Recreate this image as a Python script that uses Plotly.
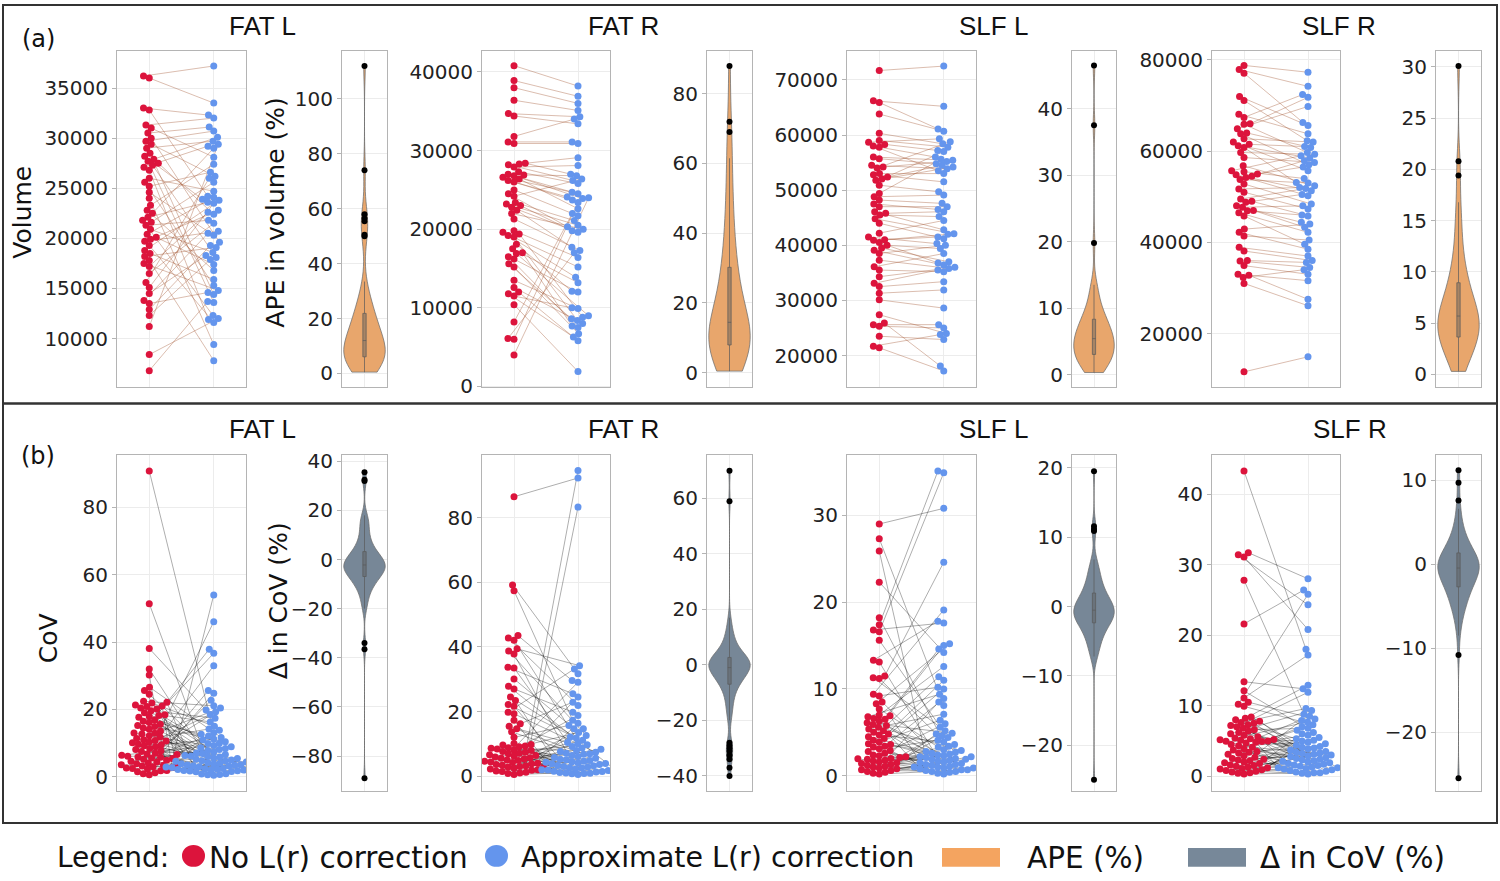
import numpy as np
import plotly.graph_objects as go

W, H = 1500, 881

# ---- (a) volume, paired: no correction vs approximate correction ----
fatl_vol_none = [36200, 36000, 33000, 32800, 31300, 31000, 30500, 30000, 29700, 29400,
                 29000, 28500, 28200, 27900, 27700, 27500, 27300, 27100, 26800, 26000,
                 25600, 25200, 24600, 24000, 23300, 22800, 22500, 22100, 21800, 21600,
                 21300, 20900, 20400, 20100, 19900, 19700, 19300, 18800, 18500, 18200,
                 17800, 17500, 17200, 16500, 15600, 15100, 14500, 13800, 13500, 12900,
                 12300, 11200, 8400, 6800]
fatl_vol_approx = [37200, 33500, 32300, 24200, 32000, 28100, 31100, 19600, 30700, 26200,
                   29700, 14400, 23900, 30100, 13600, 22400, 18100, 29200, 11900, 24700,
                   15300, 26600, 20300, 9400, 27400, 16800, 29000, 23600, 12300, 25600,
                   21800, 18600, 24100, 17400, 22800, 20700, 11600, 23800, 15900, 19100,
                   7800, 14800, 22600, 21500, 26000, 23500, 18300, 20500, 14600, 19300,
                   17900, 29400, 12000, 13700]

fatr_vol_none = [40800, 38900, 38000, 36400, 34700, 34400, 31800, 31100, 30900, 28400,
                 28300, 28200, 27900, 27300, 27000, 26900, 26800, 26600, 26400, 26200,
                 26000, 25000, 24500, 24200, 23400, 23200, 23000, 22800, 22400, 22000,
                 21300, 19800, 19600, 19400, 19200, 19000, 18100, 17500, 17000, 16900,
                 16500, 16200, 15600, 15200, 13500, 12600, 12000, 11800, 11500, 10400,
                 8200, 6100, 6000, 4000]
fatr_vol_approx = [38200, 36900, 36000, 35100, 34300, 33400, 34000, 31100, 30900, 27000,
                   29100, 26200, 28100, 25800, 24500, 26800, 23900, 24700, 22600, 24100,
                   23700, 21700, 20300, 26400, 21100, 20500, 19800, 19600, 17700, 20000,
                   17300, 16400, 15200, 8800, 13900, 8400, 12100, 13200, 7700, 9000,
                   7500, 12000, 8600, 6700, 9900, 8000, 5800, 6300, 10000, 1900,
                   22000, 17000, 23400, 24000]

slfl_vol_none = [71700, 66200, 65900, 63800, 60300, 59000, 58700, 58300, 58000, 57800,
                 56000, 55700, 54500, 54200, 54000, 53000, 52800, 52400, 52000, 51800,
                 50900, 49400, 48800, 48200, 47500, 47000, 46100, 45800, 45500, 44800,
                 44000, 42200, 41500, 41000, 40900, 40500, 40000, 39500, 39100, 38500,
                 37300, 36100, 35500, 34300, 33100, 32500, 31300, 30100, 27400, 25900,
                 25600, 25300, 23500, 21700, 21400]
slfl_vol_approx = [72500, 65200, 61100, 60700, 58400, 57800, 59300, 57200, 53500, 56000,
                   55400, 54800, 53900, 55200, 58800, 53000, 51500, 54500, 57000, 54200,
                   49700, 55600, 49100, 47600, 46500, 47000, 42800, 46100, 45200, 42100,
                   41200, 44500, 40300, 42000, 41500, 36800, 39400, 37000, 36400, 40000,
                   35800, 38500, 35200, 36000, 35500, 33400, 31900, 28600, 24000, 18100,
                   25600, 25000, 22900, 23800, 17200]

slfr_vol_none = [78800, 77900, 77100, 72000, 71100, 68100, 67400, 66000, 65900, 64900,
                 64000, 63800, 62700, 62000, 61500, 61200, 60800, 59700, 58600, 56800,
                 55700, 55500, 55000, 54800, 54500, 54200, 53800, 52800, 51700, 51000,
                 49500, 49000, 48800, 48000, 47700, 47000, 46900, 46500, 45800, 42900,
                 42200, 41400, 38900, 38100, 36000, 35900, 34900, 33000, 32800, 32300,
                 31000, 11600]
slfr_vol_approx = [77300, 74200, 66300, 65600, 62300, 63800, 72400, 71800, 59700, 69800,
                   60800, 57000, 62000, 55700, 61000, 58500, 53100, 59300, 57500, 52400,
                   59000, 54000, 56500, 51300, 57900, 50200, 53000, 48400, 52000, 47300,
                   51800, 45800, 50500, 44400, 48000, 43300, 46000, 42200, 39600, 44000,
                   38500, 40500, 37000, 36000, 35600, 34500, 33000, 31600, 27500, 34000,
                   26100, 14900]

# ---- (a) APE in volume (%) ----
fatl_ape = [112, 74, 58, 56.5, 55.5, 50.5, 50,
            0.5, 1.0, 1.5, 2.1, 2.8, 3.3, 3.9, 4.4, 4.9, 5.4, 5.9, 6.3, 6.8, 7.2, 7.7, 8.1,
            8.6, 9.0, 9.5, 10.1, 10.7, 11.3, 12.0, 12.7, 13.5, 14.2, 15.0, 15.9, 16.8, 17.7,
            18.8, 19.9, 21.0, 22.2, 23.5, 24.9, 26.3, 27.8, 20.5, 17.2, 14.7, 28.5, 33.5,
            8.3, 6.0, 4.1, 11.6, 2.4]
fatr_ape = [88, 72, 69,
            0.4, 1.2, 2.0, 2.9, 3.8, 4.5, 5.2, 5.8, 6.3, 6.9, 7.4, 7.9, 8.4, 8.9, 9.4, 9.9,
            10.4, 10.9, 11.4, 12.0, 12.6, 13.3, 14.0, 14.8, 15.7, 16.7, 17.8, 19.0, 20.3,
            21.7, 23.2, 24.8, 26.5, 28.3, 30.2, 32.2, 34.4, 36.8, 39.4, 42.3, 45.5, 49.0,
            53.0, 58.0, 61.5, 3.3, 7.1, 9.1, 11.7, 18.4, 27.4]
slfl_ape = [46.5, 37.5, 19.8,
            0.3, 0.7, 1.1, 1.5, 1.9, 2.2, 2.5, 2.8, 3.1, 3.4, 3.7, 3.9, 4.2, 4.4, 4.7, 4.9,
            5.2, 5.4, 5.7, 6.0, 6.3, 6.6, 6.9, 7.2, 7.6, 8.0, 8.4, 8.9, 9.4, 10.0, 10.7,
            11.5, 12.4, 13.5, 8.1, 8.6, 13.0, 0.9, 2.0, 3.0, 4.0, 5.0, 5.5, 6.1, 2.6, 3.5,
            4.5, 1.3, 7.0, 9.0, 1.7, 5.9]
slfr_ape = [30.1, 20.8, 19.4,
            0.3, 0.8, 1.3, 1.8, 2.2, 2.6, 2.9, 3.2, 3.5, 3.8, 4.1, 4.3, 4.6, 4.8, 5.0, 5.3,
            5.5, 5.8, 6.1, 6.4, 6.7, 7.0, 7.4, 7.8, 8.2, 8.7, 9.2, 9.8, 10.5, 11.3, 12.2,
            13.2, 14.3, 15.5, 16.8, 4.5, 5.1, 3.4, 2.4, 6.0, 7.2, 4.0, 5.6, 1.5, 3.0, 8.5,
            10.0, 6.3, 4.9]

# ---- (b) CoV, paired ----
fatl_cov_none = [90.8, 51.4, 38.1, 32.0, 30.2, 26.6, 25.6, 24.5, 22.4, 22.1, 21.9, 21.3,
                 20.9, 20.1, 19.6, 18.4, 18.2, 17.7, 16.9, 16.1, 15.2, 14.9, 14.1, 13.6,
                 12.7, 12.2, 11.8, 11.4, 11.0, 10.8, 10.6, 10.1, 9.7, 9.5, 8.9, 8.4, 8.1,
                 7.7, 7.5, 7.0, 6.8, 6.4, 6.1, 5.9, 5.8, 5.4, 5.2, 4.9, 4.6, 4.4, 4.1, 3.9,
                 3.7, 3.4, 3.2, 3.0, 2.8, 2.5, 2.3, 15.6, 1.9, 19.0, 1.5, 13.0, 1.2, 21.0,
                 0.9, 16.5, 0.6, 20.4, 12.9, 9.2, 6.6, 5.6, 3.6, 2.6, 1.8, 14.5, 10.3, 17.9]
fatl_cov_approx = [13.1, 4.2, 19.8, 8.6, 2.9, 11.7, 6.3, 1.6, 21.1, 3.3, 15.0, 0.9,
                   9.9, 5.2, 17.4, 2.2, 7.4, 12.6, 4.8, 36.7, 3.8, 10.4, 0.7, 6.9,
                   37.9, 2.6, 14.2, 4.7, 1.9, 8.1, 25.6, 3.1, 0.5, 11.2, 5.6, 2.4, 18.5,
                   5.4, 6.6, 3.5, 33.0, 9.3, 6.2, 4.4, 2.0, 54.0, 12.1, 3.0, 7.8, 2.5, 22.7,
                   2.7, 5.9, 0.8, 46.0, 3.6, 10.9, 1.8, 24.8, 4.0, 2.3, 16.3, 3.4, 8.4, 7.1,
                   2.8, 13.8, 0.6, 5.0, 3.2, 20.4, 1.7, 8.9, 4.6, 2.1, 19.3, 3.9, 6.0, 1.5, 10.0]

fatr_cov_none = [86.5, 59.2, 57.4, 43.5, 42.8, 42.1, 39.4, 38.7, 37.8, 33.7, 33.5, 30.1,
                 27.8, 27.0, 24.5, 23.4, 22.2, 21.6, 19.8, 19.3, 17.3, 16.2, 15.4, 14.7,
                 13.7, 12.0, 10.1, 9.8, 9.6, 9.3, 9.1, 8.8, 8.6, 8.4, 8.1, 7.9, 7.6, 7.4,
                 7.1, 6.9, 6.6, 6.4, 6.2, 5.9, 5.7, 5.5, 5.3, 5.0, 4.8, 4.6, 4.4, 4.2, 4.0,
                 3.8, 3.6, 3.4, 3.2, 3.0, 2.8, 2.6, 2.4, 2.2, 2.0, 1.8, 1.6, 1.4, 1.2, 1.0,
                 0.8, 0.5]
fatr_cov_approx = [92.3, 31.7, 17.3, 29.6, 21.9, 8.7, 34.2, 12.6, 4.4, 25.5, 6.1, 14.7,
                   2.3, 19.8, 9.7, 3.3, 11.8, 5.2, 33.2, 7.4, 1.5, 22.9, 6.8, 10.4, 3.9,
                   15.7, 2.8, 24.5, 5.8, 1.1, 13.5, 4.1, 7.9, 0.8, 18.8, 3.0, 9.2, 6.4, 1.9,
                   29.1, 4.8, 2.5, 11.1, 0.5, 7.1, 3.6, 94.6, 1.3, 14.7, 5.5, 2.0, 8.3, 3.8,
                   1.7, 10.0, 0.9, 83.3, 4.6, 6.9, 2.6, 12.1, 1.0, 5.1, 3.2, 7.6, 0.7, 16.4,
                   2.2, 4.3, 1.4]

slfl_cov_none = [29.0, 27.3, 25.9, 22.3, 18.2, 17.4, 16.8, 16.6, 15.6, 13.3, 13.1, 11.5,
                 11.3, 11.2, 9.4, 9.2, 8.5, 8.3, 7.7, 7.0, 6.9, 6.8, 6.6, 6.5, 6.3, 6.1,
                 5.9, 5.8, 5.6, 5.4, 5.2, 5.0, 4.8, 4.7, 4.5, 4.3, 4.1, 3.9, 3.7, 3.6, 3.4,
                 3.3, 3.1, 2.9, 2.8, 2.6, 2.4, 2.3, 2.1, 2.0, 1.9, 1.8, 1.7, 1.6, 1.5, 1.4,
                 1.3, 1.2, 1.1, 1.0, 0.9, 0.8, 0.7, 0.6, 0.5, 0.4, 0.3, 0.2, 2.2, 1.95]
slfl_cov_approx = [30.8, 8.1, 2.1, 14.2, 1.3, 35.1, 17.6, 34.9, 4.4, 17.8, 0.9, 24.6,
                   5.6, 2.7, 19.1, 10.2, 1.6, 15.2, 3.3, 12.6, 0.6, 9.4, 2.3, 15.0, 1.1,
                   4.9, 0.4, 11.4, 2.9, 7.1, 1.8, 14.6, 0.8, 3.9, 2.0, 10.0, 1.4, 6.4, 0.5,
                   2.6, 8.9, 1.2, 4.1, 0.3, 11.0, 2.2, 1.7, 6.0, 0.7, 3.6, 1.9, 8.5, 1.0,
                   2.4, 4.6, 0.2, 3.0, 1.5, 2.8, 0.9, 5.2, 1.3, 2.5, 0.5, 3.4, 1.9, 2.2, 0.7,
                   4.8, 1.0]

slfr_cov_none = [43.3, 31.7, 31.4, 31.1, 27.8, 21.6, 13.4, 12.1, 11.1, 10.5, 10.2, 9.9,
                 8.4, 8.2, 8.0, 7.8, 7.6, 7.5, 7.3, 7.2, 7.0, 6.8, 6.6, 6.4, 6.2, 6.0, 5.8,
                 5.6, 5.4, 5.3, 5.1, 5.0, 4.9, 4.7, 4.5, 4.3, 4.1, 3.9, 3.7, 3.5, 3.4, 3.3,
                 3.1, 2.9, 2.7, 2.5, 2.4, 2.3, 2.2, 2.0, 1.9, 1.8, 1.6, 1.5, 1.4, 1.3, 1.2,
                 1.1, 1.0, 0.9, 0.8, 0.7, 0.6, 0.5, 0.4, 0.3, 5.2, 5.15, 4.95, 4.8]
slfr_cov_approx = [18.0, 28.0, 24.3, 20.8, 8.8, 26.4, 12.4, 6.2, 17.2, 8.1, 25.8, 7.3,
                   1.2, 12.9, 4.4, 2.2, 9.6, 0.7, 5.3, 3.1, 11.9, 1.5, 6.8, 0.9, 4.0, 9.3,
                   2.6, 1.8, 7.7, 3.5, 0.5, 5.8, 2.0, 8.5, 1.1, 4.8, 3.0, 0.6, 6.5, 2.4, 1.4,
                   4.2, 7.0, 0.8, 3.7, 5.5, 1.0, 2.8, 4.6, 1.6, 3.3, 6.0, 0.4, 2.1, 3.9, 1.3,
                   5.0, 2.5, 0.3, 4.1, 1.9, 3.4, 7.9, 1.7, 2.9, 0.5, 3.2, 2.3, 5.1, 1.2]

# ---- (b) change in CoV (%) ----
fatl_dcov = [35.5, 32.5, 32.0, -34, -36.5, -89,
             -20, -19, -17, -15.5, -14, -13, -12, -11, -10.3, -9.6, -9, -8.5, -8, -7.5, -7,
             -6.6, -6.2, -5.8, -5.4, -5, -4.7, -4.4, -4.1, -3.8, -3.5, -3.2, -2.9, -2.6,
             -2.3, -2, -1.7, -1.4, -1.1, -0.8, -0.5, -0.2, 0.2, 0.6, 1.0, 1.4, 1.9, 2.4,
             2.9, 3.4, 4.0, 4.6, 5.2, 5.9, 6.6, 7.4, 8.3, 9.3, 10.4, 11.6, 13, 14.5, 16,
             18, 17, 15, -3.3, -4.5, -2.1, -5.6, -1.2, -6.8, 0.0, -2.7, -3.9, 1.7, -8.8,
             3.1, -0.9, -11.5]
fatr_dcov = [70, 59, -28, -29, -30, -31, -32.5, -34, -37, -40,
             -20, -18, -16.5, -15, -13.5, -12.3, -11.2, -10.2, -9.3, -8.5, -7.8, -7.1,
             -6.5, -5.9, -5.3, -4.8, -4.3, -3.8, -3.3, -2.9, -2.5, -2.1, -1.7, -1.3, -0.9,
             -0.5, -0.1, 0.3, 0.7, 1.1, 1.5, 1.9, 2.3, 2.8, 3.3, 3.8, 4.4, 5.0, 5.7, 6.5,
             7.4, 8.4, 9.6, 11, 12.6, 14.5, 17, -1.0, 0.0, 1.3, -2.3, 2.6, -3.6, 0.5, -0.3,
             1.8, -4.0, 3.0, -1.5, 0.9, -5.5, 4.1, -0.7, 2.1, -2.7, 6.0, -6.8, 0.2, 1.6, 10.0]
slfl_dcov = [19.5, 11.6, 11.2, 10.9, -25,
             -7.0, -6.8, -7.2, -6.5, -5.9, -5.3, -4.8, -4.3, -3.9, -3.5, -3.2, -2.9, -2.6,
             -2.3, -2.1, -1.9, -1.7, -1.5, -1.3, -1.1, -0.9, -0.7, -0.5, -0.3, -0.1, 0.1,
             0.3, 0.5, 0.7, 0.9, 1.1, 1.3, 1.6, 1.9, 2.2, 2.5, 2.8, 3.2, 3.6, 4.1, 4.7, 5.4,
             6.2, 6.0, 6.8, -1.0, -0.6, -1.6, -0.2, -2.4, 0.0, -1.2, -3.0, 0.4, -0.8, -1.8,
             1.0, -2.0, -0.4, 0.6, -1.4, -3.7, 1.4, -4.5, 2.0, 3.4, 4.4, -2.2, -4.0, 5.0,
             -5.0, 3.0, -0.55, 0.8, -1.45]
slfr_dcov = [11.2, 9.7, -10.8, -25.5,
             -8.5, -7.5, -6.8, -6.2, -5.7, -5.2, -4.8, -4.4, -4.0, -3.7, -3.4, -3.1, -2.8,
             -2.5, -2.2, -1.9, -1.6, -1.3, -1.0, -0.7, -0.4, -0.1, 0.2, 0.5, 0.8, 1.1, 1.4,
             1.7, 2.0, 2.3, 2.7, 3.1, 3.6, 4.2, 4.9, 5.7, 6.6, 7.6, -0.5, 0.0, -1.5, 0.6,
             -2.0, 1.0, -0.8, 0.3, -3.0, 1.8, -1.1, -0.2, -2.6, 0.9, -0.3, -1.8, 2.5, -3.6,
             0.1, -4.6, 1.3, -1.2, -0.6, 3.3, -2.3, 0.4, -5.5, 1.6, -0.9, 2.9, -1.4, 0.7,
             -3.9, 4.5, 0.05, -2.0, 1.2, -0.4]

tract_names = ["FAT L", "FAT R", "SLF L", "SLF R"]

RED, BLUE = "#DC143C", "#6495ED"
ORANGE, SLATE = "#F4A460", "#778899"

rows = [
    dict(none=[fatl_vol_none, fatr_vol_none, slfl_vol_none, slfr_vol_none],
         approx=[fatl_vol_approx, fatr_vol_approx, slfl_vol_approx, slfr_vol_approx],
         vio=[fatl_ape, fatr_ape, slfl_ape, slfr_ape],
         yr_pair=[[5120, 38700], [-130, 42670], [14200, 75250], [8170, 81970]],
         yr_vio=[[-5.1, 117.5], [-4.3, 92.3], [-1.95, 48.7], [-1.27, 31.56]],
         dt_pair=[5000, 10000, 10000, 20000], dt_vio=[20, 20, 10, 5],
         link="rgba(160,82,45,0.38)", fill="#E8A66C", fmt="d",
         title_y=25, title_x=[262, 623, 993, 1339]),
    dict(none=[fatl_cov_none, fatr_cov_none, slfl_cov_none, slfr_cov_none],
         approx=[fatl_cov_approx, fatr_cov_approx, slfl_cov_approx, slfr_cov_approx],
         vio=[fatl_dcov, fatr_dcov, slfl_dcov, slfr_dcov],
         yr_pair=[[-4.2, 95.4], [-4.6, 99.3], [-1.75, 36.9], [-2.1, 45.5]],
         yr_vio=[[-94.2, 42.4], [-45.4, 75.5], [-26.6, 21.8], [-27.0, 12.96]],
         dt_pair=[20, 20, 10, 10], dt_vio=[20, 20, 10, 10],
         link="rgba(0,0,0,0.32)", fill="#778797", fmt="",
         title_y=429, title_x=[262, 623, 993, 1350]),
]

PAIR_X = [(117, 246), (482, 610), (847, 976), (1212, 1340)]
VIO_X = [(342, 387), (707, 752), (1072, 1116), (1436, 1481)]
ROW_Y = [(50, 387), (455, 791)]

# the page snapshot comes out squeezed vertically (about 0.982, shifted ~5 px);
# place everything on the pre-squeezed grid so it lands on the intended pixel
SQ, SHIFT = 0.982, 5.0


def ypx(y):
    return (y - SHIFT) / SQ


def ypaper(y):
    return 1 - ypx(y) / H


TICK_FONT = dict(family="DejaVu Sans", size=20, color="#222")
GRID = "#ececec"
FRAME = "#b4b4b4"


def swarm(vals, lo, hi, hpx, d):
    # beeswarm offsets in pixels
    ys = (np.asarray(vals, float) - lo) / (hi - lo) * hpx
    xs = np.zeros(len(ys))
    done = []
    for i in np.argsort(ys, kind="stable"):
        y = ys[i]
        near = [(px, py) for px, py in done if abs(py - y) < d]
        cands = [0.0]
        for px, py in near:
            dx = np.sqrt(d * d - (py - y) ** 2)
            cands += [px + dx, px - dx]
        for c in sorted(cands, key=lambda c: (abs(c), c)):
            if all((c - px) ** 2 + (y - py) ** 2 >= d * d - 1e-6 for px, py in near):
                xs[i] = c
                break
        done.append((xs[i], y))
    return xs


def ax_names(n):
    s = "" if n == 1 else str(n)
    return "x" + s, "y" + s, "xaxis" + s, "yaxis" + s


fig = go.Figure()
layout_axes = {}

for r, row in enumerate(rows):
    y0, y1 = ROW_Y[r]
    for g in range(4):
        n_p = r * 8 + g * 2 + 1
        n_v = n_p + 1
        xp, yp, xap, yap = ax_names(n_p)
        xv, yv, xav, yav = ax_names(n_v)
        lo, hi = row["yr_pair"][g]
        none, approx = row["none"][g], row["approx"][g]
        pxu = (PAIR_X[g][1] - PAIR_X[g][0]) / 2.0
        hpx = ypx(y1) - ypx(y0)
        off_n = swarm(none, lo, hi, hpx, 6.1) / pxu
        off_a = swarm(approx, lo, hi, hpx, 6.1) / pxu

        lx, ly = [], []
        for i in range(len(none)):
            lx += [off_n[i], 1 + off_a[i], None]
            ly += [none[i], approx[i], None]
        fig.add_trace(go.Scatter(x=lx, y=ly, mode="lines", xaxis=xp, yaxis=yp,
                                 line=dict(color=row["link"], width=1),
                                 hoverinfo="skip", showlegend=False))
        fig.add_trace(go.Scatter(x=off_n, y=none, mode="markers", xaxis=xp, yaxis=yp,
                                 marker=dict(color=RED, size=7), showlegend=False))
        fig.add_trace(go.Scatter(x=1 + off_a, y=approx, mode="markers", xaxis=xp, yaxis=yp,
                                 marker=dict(color=BLUE, size=7), showlegend=False))

        vals = row["vio"][g]
        fig.add_trace(go.Violin(
            y=vals, x=[0] * len(vals), xaxis=xv, yaxis=yv, width=0.92,
            spanmode="hard", fillcolor=row["fill"],
            line=dict(color="rgba(110,110,110,0.75)", width=1),
            box=dict(visible=True, width=0.08, fillcolor="rgba(90,90,90,0.45)",
                     line=dict(color="rgba(90,90,90,0.7)", width=1)),
            points="outliers", pointpos=0, jitter=0,
            marker=dict(color="black", size=6), showlegend=False))

        common_y = dict(ticks="outside", ticklen=4, tickcolor=FRAME, tickfont=TICK_FONT,
                        showgrid=True, gridcolor=GRID, zeroline=False, showline=True,
                        mirror=True, linecolor=FRAME, linewidth=1, tick0=0)
        common_x = dict(showticklabels=False, ticks="", showgrid=True, gridcolor=GRID,
                        zeroline=False, showline=True, mirror=True, linecolor=FRAME,
                        linewidth=1)
        ydom = [ypaper(y1), ypaper(y0)]
        layout_axes[xap] = dict(domain=[PAIR_X[g][0] / W, PAIR_X[g][1] / W],
                                range=[-0.5, 1.5], tickvals=[0, 1], anchor=yp, **common_x)
        yargs = dict(domain=ydom, range=[lo, hi], dtick=row["dt_pair"][g], anchor=xp, **common_y)
        if row["fmt"]:
            yargs["tickformat"] = row["fmt"]
        layout_axes[yap] = yargs
        layout_axes[xav] = dict(domain=[VIO_X[g][0] / W, VIO_X[g][1] / W],
                                range=[-0.5, 0.5], tickvals=[0], anchor=yv, **common_x)
        layout_axes[yav] = dict(domain=ydom, range=row["yr_vio"][g], dtick=row["dt_vio"][g],
                                anchor=xv, **common_y)

annotations = []


def txt(text, x, y, size, family="DejaVu Sans", xanchor="center", angle=0):
    annotations.append(dict(text=text, x=x / W, y=ypaper(y), xref="paper", yref="paper",
                            xanchor=xanchor, yanchor="middle", showarrow=False,
                            textangle=angle, font=dict(family=family, size=size, color="#111")))


for r, row in enumerate(rows):
    for g, name in enumerate(tract_names):
        txt(name, row["title_x"][g], row["title_y"], 26, family="Liberation Sans")

txt("(a)", 38, 38, 24)
txt("(b)", 38, 456, 24)
txt("Volume", 23, 212, 25, angle=-90)
txt("APE in volume (%)", 276, 212, 25, angle=-90)
txt("CoV", 48, 638, 25, angle=-90)
txt("Δ in CoV (%)", 278, 601, 25, angle=-90)

# legend row
txt("Legend:", 55, 858, 28, xanchor="left")
txt("No L(r) correction", 207, 858, 29.5, xanchor="left")
txt("Approximate L(r) correction", 519, 858, 28.5, xanchor="left")
txt("APE (%)", 1025, 858, 29.5, xanchor="left")
txt("Δ in CoV (%)", 1258, 858, 29.5, xanchor="left")


def rect(x0, y0, x1, y1, **kw):
    return dict(xref="paper", yref="paper", x0=x0 / W, x1=x1 / W,
                y0=ypaper(y1), y1=ypaper(y0), **kw)


shapes = [
    rect(3, 4, 1497, 403, type="rect", line=dict(color="#333", width=2)),
    rect(3, 403, 1497, 823, type="rect", line=dict(color="#333", width=2)),
    rect(182, 845, 205, 867, type="circle", fillcolor=RED, line=dict(width=0)),
    rect(485, 845, 508, 867, type="circle", fillcolor=BLUE, line=dict(width=0)),
    rect(942, 848, 1000, 867, type="rect", fillcolor=ORANGE, line=dict(width=0)),
    rect(1188, 848, 1246, 867, type="rect", fillcolor=SLATE, line=dict(width=0)),
]

fig.update_layout(
    width=W, height=H, autosize=False, margin=dict(l=0, r=0, t=0, b=0),
    paper_bgcolor="white", plot_bgcolor="white",
    font=dict(family="DejaVu Sans", size=20, color="#222"),
    annotations=annotations, shapes=shapes, showlegend=False,
    **layout_axes)

# pin the figure to the top-left corner of the page
pin = ("document.documentElement.style.margin='0';document.body.style.margin='0';"
       "document.documentElement.style.overflow='hidden';document.body.style.overflow='hidden';"
       "var gd=document.getElementById('{plot_id}');gd.style.position='fixed';"
       "gd.style.left='0px';gd.style.top='0px';")

fig.write_html("out.html", config={"displayModeBar": False, "responsive": False},
               post_script=pin)
